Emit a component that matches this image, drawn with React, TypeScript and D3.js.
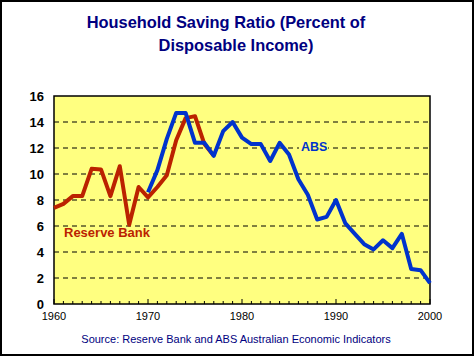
import React from "react";
import * as d3 from "d3";

const rbYears = [1960,1961,1962,1963,1964,1965,1966,1967,1968,1969,1970,1971,1972,1973,1974,1975,1976,1977];
const rbValues = [7.4,7.7,8.3,8.3,10.4,10.35,8.3,10.6,6.1,9.0,8.2,9.0,9.9,12.6,14.3,14.45,12.3,11.4];

const absYears = [1970,1971,1972,1973,1974,1975,1976,1977,1978,1979,1980,1981,1982,1983,1984,1985,1986,1987,1988,1989,1990,1991,1992,1993,1994,1995,1996,1997,1998,1999,2000];
const absValues = [8.6,10.3,12.7,14.7,14.7,12.4,12.4,11.4,13.3,14.0,12.8,12.3,12.3,11.0,12.4,11.5,9.6,8.4,6.5,6.7,8.0,6.2,5.4,4.6,4.2,4.9,4.3,5.4,2.7,2.6,1.6];

const yTicks = [0,2,4,6,8,10,12,14,16];
const xTicks = [1960,1970,1980,1990,2000];

const W = 474, H = 356;
const L = 54, R = 430, T = 96, B = 304;

export default function App() {
  const x = d3.scaleLinear().domain([1960, 2000]).range([L, R]);
  const y = d3.scaleLinear().domain([0, 16]).range([B, T]);
  const line = d3.line<[number, number]>().x(d => x(d[0])).y(d => y(d[1]));
  const rb = line(rbYears.map((yr, i) => [yr, rbValues[i]] as [number, number])) || "";
  const abs = line(absYears.map((yr, i) => [yr, absValues[i]] as [number, number])) || "";
  const minor = d3.range(1961, 2000).filter(v => v % 10 !== 0);
  const font = "Arial, 'Liberation Sans', sans-serif";
  return (
    <svg width={W} height={H} style={{ position: "absolute", left: 0, top: 0, background: "#fff" }} fontFamily={font}>
      <rect x={1} y={1} width={W - 2} height={H - 2} fill="#fff" stroke="#000" strokeWidth={2} />
      <text x={226} y={28} textAnchor="middle" fontSize={16.4} fontWeight="bold" fill="#000080">Household Saving Ratio (Percent of</text>
      <text x={236} y={51} textAnchor="middle" fontSize={16.4} fontWeight="bold" fill="#000080">Disposable Income)</text>
      <rect x={L} y={T} width={R - L} height={B - T} fill="#FFFF80" />
      {yTicks.filter(v => v > 0 && v < 16).map(v => (
        <line key={v} x1={L} x2={R} y1={y(v)} y2={y(v)} stroke="#000" strokeWidth={1} strokeDasharray="5,4" />
      ))}
      {minor.map(v => (
        <line key={v} x1={x(v)} x2={x(v)} y1={B} y2={B - 3} stroke="#000" strokeWidth={1} />
      ))}
      {xTicks.map(v => (
        <line key={v} x1={x(v)} x2={x(v)} y1={B} y2={B - 5} stroke="#000" strokeWidth={1} />
      ))}
      <rect x={L} y={T} width={R - L} height={B - T} fill="none" stroke="#000" strokeWidth={1.5} />
      {yTicks.map(v => (
        <text key={v} x={44} y={y(v) + 5} textAnchor="end" fontSize={13} fontWeight="bold" fill="#000">{v}</text>
      ))}
      {xTicks.map(v => (
        <text key={v} x={x(v)} y={320} textAnchor="middle" fontSize={11} fill="#000">{v}</text>
      ))}
      <path d={rb} fill="none" stroke="#BB2200" strokeWidth={4} strokeLinejoin="round" />
      <path d={abs} fill="none" stroke="#0033CC" strokeWidth={4} strokeLinejoin="round" />
      <text x={64} y={237} fontSize={13} fontWeight="bold" fill="#BB2200">Reserve Bank</text>
      <rect x={299} y={140} width={29} height={13} fill="#FFFF80" />
      <text x={301} y={151} fontSize={12.5} fontWeight="bold" fill="#0033CC">ABS</text>
      <text x={236} y={343} textAnchor="middle" fontSize={11} fill="#000080">Source: Reserve Bank and ABS Australian Economic Indicators</text>
    </svg>
  );
}
